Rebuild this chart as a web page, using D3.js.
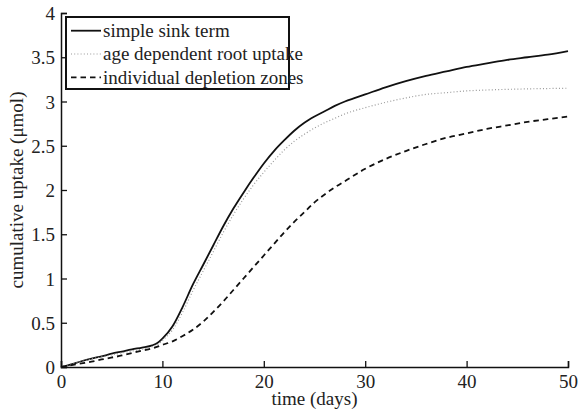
<!DOCTYPE html>
<html>
<head>
<meta charset="utf-8">
<script src="https://cdn.jsdelivr.net/npm/d3@7/dist/d3.min.js"></script>
<style>
  html, body { margin: 0; padding: 0; background: #fff; }
  svg { display: block; }
</style>
</head>
<body>
<svg id="chart" width="579" height="417"></svg>
<script>
// Cumulative uptake over time for three root uptake models
const simpleDays = [0, 1, 2, 3, 4, 5, 6, 7, 8, 9, 9.5, 10, 11, 12, 13, 14, 15, 16, 17, 18, 19, 20, 21, 22, 23, 24, 25, 26, 27, 28, 29, 30, 32, 34, 36, 38, 40, 42, 44, 46, 48, 50];
const simpleSink = [0, 0.03, 0.065, 0.095, 0.12, 0.15, 0.175, 0.2, 0.22, 0.245, 0.27, 0.32, 0.46, 0.68, 0.93, 1.15, 1.37, 1.59, 1.79, 1.97, 2.14, 2.3, 2.44, 2.56, 2.67, 2.76, 2.83, 2.89, 2.95, 3.0, 3.04, 3.08, 3.16, 3.23, 3.29, 3.34, 3.39, 3.43, 3.47, 3.5, 3.53, 3.57];

const ageDays = [0, 3, 6, 9, 9.5, 10, 11, 12, 13, 14, 15, 16, 17, 18, 19, 20, 21, 22, 23, 24, 25, 26, 27, 28, 30, 32, 34, 36, 38, 40, 42, 45, 50];
const ageUptake = [0, 0.09, 0.16, 0.23, 0.25, 0.3, 0.42, 0.62, 0.86, 1.08, 1.3, 1.52, 1.72, 1.9, 2.06, 2.2, 2.33, 2.45, 2.55, 2.63, 2.7, 2.76, 2.81, 2.86, 2.93, 2.99, 3.04, 3.08, 3.1, 3.12, 3.13, 3.14, 3.15];

const zoneDays = [0, 2, 3, 4, 6, 8, 9, 10, 11, 12, 13, 14, 15, 16, 17, 18, 19, 20, 21, 22, 23, 24, 25, 26, 27, 28, 30, 32, 34, 36, 38, 40, 42, 44, 46, 48, 50];
const depletionZones = [0, 0.04, 0.06, 0.085, 0.13, 0.185, 0.21, 0.25, 0.29, 0.35, 0.42, 0.51, 0.62, 0.74, 0.87, 1.0, 1.13, 1.26, 1.39, 1.52, 1.64, 1.75, 1.86, 1.95, 2.03, 2.1, 2.24, 2.35, 2.44, 2.52, 2.59, 2.64, 2.69, 2.73, 2.77, 2.8, 2.83];

const xTicks = [0, 10, 20, 30, 40, 50];
const yTicks = [0, 0.5, 1, 1.5, 2, 2.5, 3, 3.5, 4];
const seriesNames = ["simple sink term", "age dependent root uptake", "individual depletion zones"];

const FONT = "Liberation Serif";
const FS = 19;
const svg = d3.select("#chart");
const x = d3.scaleLinear().domain([0, 50]).range([61, 568]);
const y = d3.scaleLinear().domain([0, 4]).range([367, 13]);

// axes with inward ticks
const xAxis = d3.axisBottom(x).tickValues(xTicks).tickSize(-6).tickPadding(8).tickFormat(d3.format("d"));
const yAxis = d3.axisLeft(y).tickValues(yTicks).tickSize(-6).tickPadding(6).tickFormat(d => String(d));

const gx = svg.append("g").attr("transform", `translate(0,${y(0)})`).call(xAxis);
const gy = svg.append("g").attr("transform", `translate(${x(0)},0)`).call(yAxis);
[gx, gy].forEach(g => {
  g.attr("font-family", FONT).attr("font-size", FS);
  g.select(".domain").attr("stroke", "#111").attr("stroke-width", 1.5);
  g.selectAll(".tick line").attr("stroke", "#111").attr("stroke-width", 1.3);
  g.selectAll(".tick text").attr("font-family", FONT).attr("font-size", FS).attr("fill", "#222");
});
gy.selectAll(".tick text").attr("dy", "0.35em");

// curves
const series = [
  { days: simpleDays, vals: simpleSink, stroke: "#111", width: 1.8, dash: null },
  { days: ageDays, vals: ageUptake, stroke: "#999", width: 1.2, dash: "1,2.2" },
  { days: zoneDays, vals: depletionZones, stroke: "#111", width: 1.8, dash: "5.5,4" }
];
const line = d3.line().x(d => x(d[0])).y(d => y(d[1])).curve(d3.curveMonotoneX);
series.forEach(s => {
  svg.append("path")
    .datum(s.days.map((d, i) => [d, s.vals[i]]))
    .attr("fill", "none")
    .attr("stroke", s.stroke)
    .attr("stroke-width", s.width)
    .attr("stroke-dasharray", s.dash)
    .attr("d", line);
});

// legend
const lg = svg.append("g");
lg.append("rect").attr("x", 66).attr("y", 17).attr("width", 223).attr("height", 72)
  .attr("fill", "#fff").attr("stroke", "#111").attr("stroke-width", 2);
series.forEach((s, i) => {
  const ly = 30.7 + i * 23.3;
  lg.append("line").attr("x1", 71).attr("x2", 101).attr("y1", ly).attr("y2", ly)
    .attr("stroke", s.stroke).attr("stroke-width", s.width).attr("stroke-dasharray", s.dash);
  lg.append("text").attr("x", 103).attr("y", ly).attr("dy", "0.33em")
    .attr("font-family", FONT).attr("font-size", FS).attr("fill", "#222").text(seriesNames[i]);
});

// axis titles
svg.append("text").attr("x", x(25)).attr("y", 405).attr("text-anchor", "middle")
  .attr("font-family", FONT).attr("font-size", FS).attr("fill", "#222").text("time (days)");
svg.append("text").attr("transform", `translate(23,${y(2)}) rotate(-90)`).attr("text-anchor", "middle")
  .attr("font-family", FONT).attr("font-size", FS).attr("fill", "#222").text("cumulative uptake (μmol)");
</script>
</body>
</html>
